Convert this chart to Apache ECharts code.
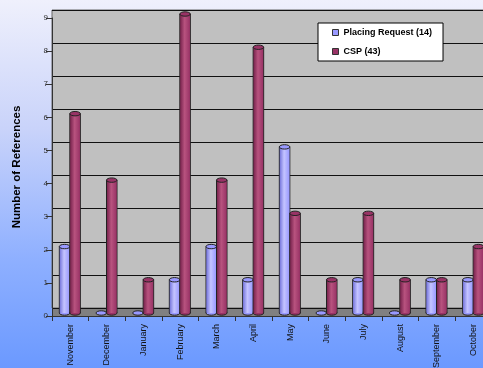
<!DOCTYPE html>
<html><head><meta charset="utf-8">
<script src="https://cdn.jsdelivr.net/npm/echarts@6/dist/echarts.min.js"></script>
<style>html,body{margin:0;padding:0;}#c{width:483px;height:368px;background:linear-gradient(to bottom,#eff0fc 0%,#c9d3fa 35%,#8fb0ff 70%,#6b99ff 100%);}</style>
</head><body><div id="c"></div>
<script>
const categories = ['November','December','January','February','March','April','May','June','July','August','September','October'];
const placingRequest = [2,0,0,1,2,1,5,0,1,0,1,1];
const csp = [6,4,1,9,4,8,3,1,3,1,1,2];
const seriesNames = ['Placing Request (14)','CSP (43)'];
const yTicks = [0,1,2,3,4,5,6,7,8,9];

const chart = echarts.init(document.getElementById('c'), null, {renderer:'canvas'});
const colors = [
  {base:'#9999ff', light:'#c4c4ff', dark:'#7777dd'},
  {base:'#993366', light:'#b8537f', dark:'#7a254f'}
];
function cyl(si){
  return function(params, api){
    const c = api.coord([api.value(0), 0]);
    const t = api.coord([api.value(0), api.value(1)]);
    const w = 10.5;
    const x0 = si === 0 ? c[0]-w-0.5 : c[0]-0.5;
    const eh = 2.2;
    const col = colors[si];
    const grad = new echarts.graphic.LinearGradient(0,0,1,0,[
      {offset:0,color:col.dark},{offset:0.45,color:col.light},{offset:1,color:col.base}]);
    const children = [];
    if (api.value(1) > 0) {
      children.push({type:'rect', shape:{x:x0, y:t[1], width:w, height:c[1]-t[1]}, style:{fill:grad, stroke:'#222', lineWidth:1}});
      children.push({type:'ellipse', shape:{cx:x0+w/2, cy:c[1], rx:w/2, ry:eh}, style:{fill:col.base, stroke:'#222', lineWidth:1}});
      children.push({type:'rect', shape:{x:x0+0.5, y:t[1], width:w-1, height:c[1]-t[1]}, style:{fill:grad}});
    }
    children.push({type:'ellipse', shape:{cx:x0+w/2, cy:t[1], rx:w/2, ry:eh}, style:{fill:col.base, stroke:'#222', lineWidth:1}});
    return {type:'group', children:children};
  };
}
const font = 'Liberation Sans, Arial, sans-serif';
chart.setOption({
  animation:false,
  backgroundColor:'transparent',
  grid:[
    {left:52, top:18, width:440, bottom:52, show:true, backgroundColor:'#808080', borderWidth:0, z:0, outerBoundsMode:'none', containLabel:false},
    {left:52, top:10, width:440, bottom:60, show:true, backgroundColor:'#c0c0c0', borderColor:'#666', borderWidth:1, z:0.5, outerBoundsMode:'none', containLabel:false},
    {left:52, top:14, width:440, bottom:55, show:false, outerBoundsMode:'none', containLabel:false}
  ],
  legend:{
    orient:'vertical', left:318, top:23,
    backgroundColor:'#fff', borderColor:'#000', borderWidth:1,
    padding:[5,11,5,14], itemGap:10, itemWidth:6, itemHeight:6,
    icon:'rect',
    textStyle:{fontFamily:font, fontWeight:'bold', fontSize:9, color:'#000'},
    data:[{name:seriesNames[0], itemStyle:{color:'#9999ff', borderColor:'#333', borderWidth:1}},
          {name:seriesNames[1], itemStyle:{color:'#993366', borderColor:'#333', borderWidth:1}}]
  },
  xAxis:[
    {type:'category', gridIndex:0, data:categories, z:1,
     axisLine:{lineStyle:{color:'#333', width:1}},
     axisTick:{show:true, length:5, lineStyle:{color:'#333'}},
     axisLabel:{rotate:90, fontFamily:font, fontSize:9, color:'#111', margin:8}},
    {type:'category', gridIndex:1, data:categories, show:false},
    {type:'category', gridIndex:2, data:categories, show:false}
  ],
  yAxis:[
    {type:'value', gridIndex:0, min:0, max:9, interval:1, z:1,
     name:'Number of References', nameLocation:'middle', nameGap:29,
     nameTextStyle:{fontFamily:font, fontWeight:'bold', fontSize:11.5, color:'#000'},
     axisLine:{show:true, lineStyle:{color:'#333'}},
     axisTick:{show:true, length:6, lineStyle:{color:'#333'}},
     axisLabel:{fontFamily:font, fontSize:8, color:'#333', margin:4,
       formatter:function(v){return yTicks.indexOf(v)>=0?String(v):'';}},
     splitLine:{show:false}},
    {type:'value', gridIndex:1, min:0, max:9, interval:1, z:1,
     axisLine:{show:false}, axisTick:{show:false}, axisLabel:{show:false},
     splitLine:{show:true, lineStyle:{color:'#111', width:1}}},
    {type:'value', gridIndex:2, min:0, max:9, interval:1, show:false, splitLine:{show:false}}
  ],
  series:[
    {type:'custom', name:seriesNames[0], xAxisIndex:2, yAxisIndex:2, z:3,
     itemStyle:{color:'#9999ff'}, renderItem:cyl(0),
     data:placingRequest.map((v,i)=>[i,v])},
    {type:'custom', name:seriesNames[1], xAxisIndex:2, yAxisIndex:2, z:3,
     itemStyle:{color:'#993366'}, renderItem:cyl(1),
     data:csp.map((v,i)=>[i,v])}
  ]
});
</script></body></html>
